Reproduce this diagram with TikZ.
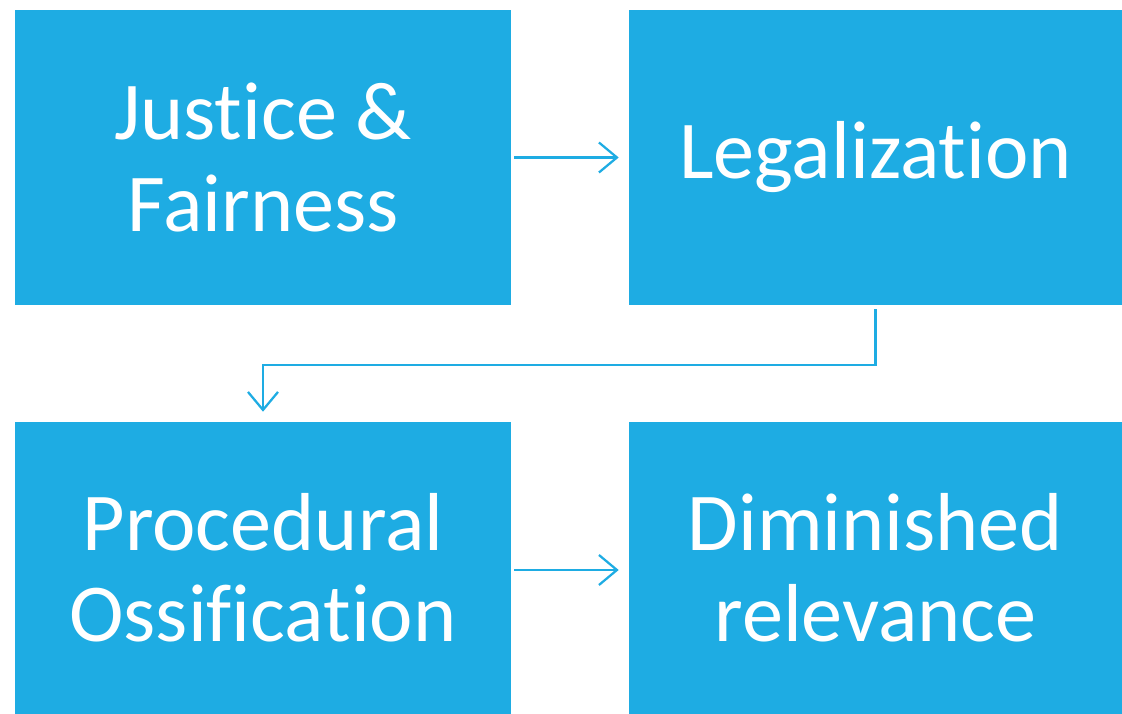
\documentclass[tikz,border=0pt]{standalone}
\usepackage{fontspec}
\setmainfont{Carlito}[Ligatures=NoCommon]
\usetikzlibrary{arrows.meta}
\definecolor{stageblue}{RGB}{30,172,227}
\tikzstyle{stage} = [fill=stageblue, text=white, align=center, inner sep=0pt, font=\fontsize{58.5}{65}\selectfont]
\tikzstyle{arrow} = [stageblue, line width=1.6pt, -{Straight Barb[length=0.45cm, width=0.75cm, line width=1.6pt]}]

\begin{document}
\begin{tikzpicture}
        \useasboundingbox (0,0) rectangle (28.05,17.85);

        %top row
        \node at (6.575,13.9125) [stage, minimum width=12.4cm, minimum height=7.375cm] (justice) {Justice \&\\Fairness};
        \node at (21.8875,13.9125) [stage, minimum width=12.325cm, minimum height=7.375cm] (legal) {Legalization};

        %bottom row
        \node at (6.575,3.65) [stage, minimum width=12.4cm, minimum height=7.3cm] (ossif) {Procedural\\Ossification};
        \node at (21.8875,3.65) [stage, minimum width=12.325cm, minimum height=7.3cm] (relev) {Diminished\\relevance};

        %Arrows
        \draw [arrow, shorten <=0.075cm, shorten >=0.25cm] (justice) -- (legal);
        \draw [arrow, shorten <=0.075cm, shorten >=0.25cm] (ossif.east |- 0,3.6) -- (relev.west |- 0,3.6);
        \draw [arrow, shorten <=0.1cm, shorten >=0.25cm] (legal.south) -- ++(0,-1.5) -| (ossif.north);

    \end{tikzpicture}
\end{document}
